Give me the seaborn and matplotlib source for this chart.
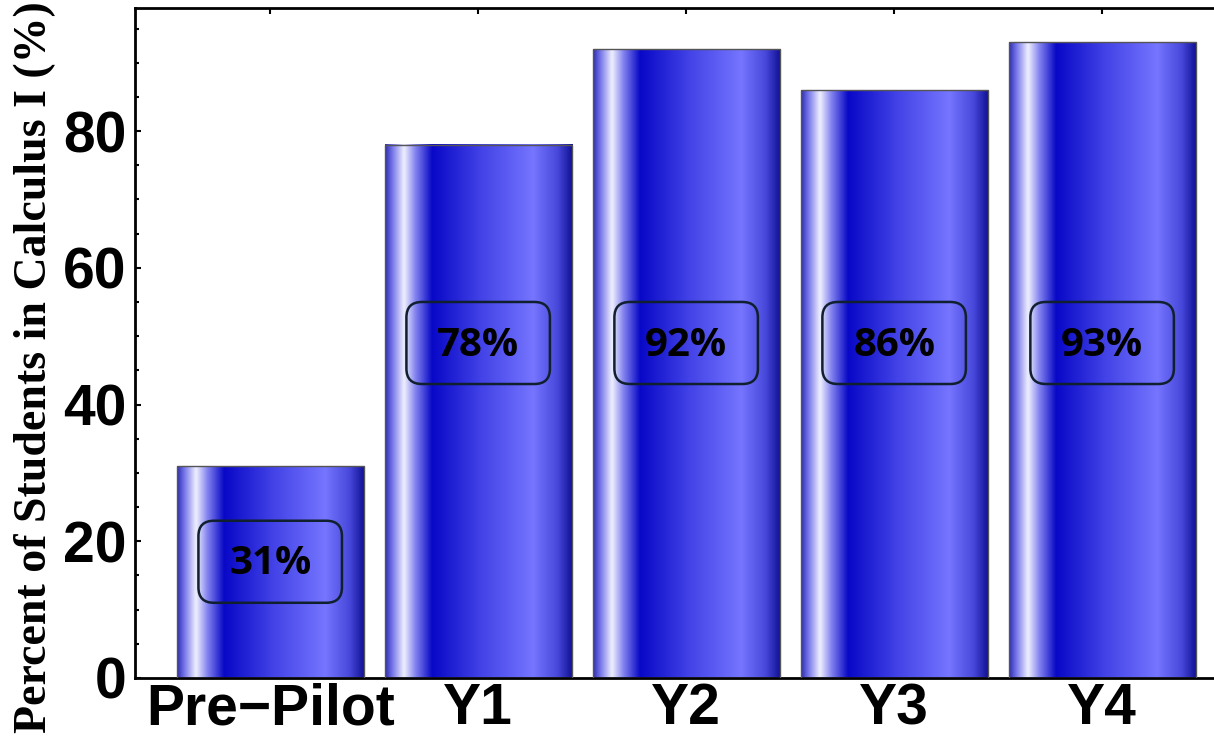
import numpy as np
import matplotlib
matplotlib.use("Agg")
import matplotlib.pyplot as plt
from matplotlib.colors import LinearSegmentedColormap
from matplotlib.patches import FancyBboxPatch
from matplotlib.ticker import MultipleLocator
import seaborn as sns

# data
categories = ["Pre\u2212Pilot", "Y1", "Y2", "Y3", "Y4"]
percent = [31, 78, 92, 86, 93]
labels = ["31%", "78%", "92%", "86%", "93%"]

sns.set_style("ticks")
plt.rcParams["font.family"] = ["Liberation Sans", "DejaVu Sans"]
plt.rcParams["text.color"] = "black"
plt.rcParams["xtick.color"] = "black"
plt.rcParams["ytick.color"] = "black"
plt.rcParams["xtick.labelcolor"] = "black"
plt.rcParams["ytick.labelcolor"] = "black"

fig = plt.figure(figsize=(12.14, 7.40), dpi=100)
ax = fig.add_axes([0.1112, 0.0838, 0.908, 0.9054])

sns.barplot(x=categories, y=percent, width=0.9, color="#3030d8",
            edgecolor="#555555", linewidth=1.0, ax=ax, zorder=2)

# cylinder-like shading across each bar
shade = LinearSegmentedColormap.from_list("cyl", [
    (0.00, (0.18, 0.18, 0.72)),
    (0.04, (0.48, 0.48, 0.92)),
    (0.10, (0.94, 0.94, 1.00)),
    (0.16, (0.52, 0.52, 0.94)),
    (0.25, (0.03, 0.03, 0.78)),
    (0.50, (0.25, 0.25, 0.90)),
    (0.79, (0.46, 0.46, 1.00)),
    (0.92, (0.28, 0.28, 0.86)),
    (1.00, (0.06, 0.06, 0.58)),
])
grad = np.linspace(0, 1, 256).reshape(1, -1)
for p in list(ax.patches):
    x0, w, h = p.get_x(), p.get_width(), p.get_height()
    ax.imshow(grad, cmap=shade, extent=[x0, x0 + w, 0, h], aspect="auto",
              interpolation="bicubic", zorder=2.5)
    p.set_facecolor("none")
    p.set_zorder(3)

# value labels in rounded boxes
for i, (v, lab) in enumerate(zip(percent, labels)):
    ly = min(49, v - 14)
    bw, bh = 0.69, 12.0
    box = FancyBboxPatch((i - bw / 2, ly - bh / 2), bw, bh,
                         boxstyle="round,pad=0,rounding_size=0.075",
                         mutation_aspect=30, facecolor="none",
                         edgecolor="#10202e", linewidth=1.8, zorder=4)
    ax.add_patch(box)
    ax.text(i, ly - 0.3, lab, ha="center", va="center", fontsize=29,
            fontweight="bold", family=["Open Sans", "DejaVu Sans"],
            color="black", zorder=5)

ax.set_xlim(-0.65, 4.65)
ax.set_ylim(0, 98)
ax.set_yticks([0, 20, 40, 60, 80])
ax.yaxis.set_minor_locator(MultipleLocator(5))
ax.set_xlabel("")
ax.set_ylabel("")

for s in ax.spines.values():
    s.set_linewidth(2)
    s.set_color("black")
    s.set_visible(True)

ax.tick_params(which="both", direction="in", top=True, right=True,
               width=1.5, color="black", labelcolor="black")
ax.tick_params(which="major", length=4)
ax.tick_params(which="minor", length=3)
ax.tick_params(axis="y", pad=6)
ax.tick_params(axis="x", pad=3)
for t in ax.get_xticklabels() + ax.get_yticklabels():
    t.set_fontsize(41)
    t.set_fontweight("bold")
    t.set_color("black")

fig.text(35 / 1214, 1 - 367 / 740, "Percent of Students in Calculus I (%)",
         rotation=90, ha="center", va="center", fontsize=33,
         fontweight="bold", color="black",
         family=["Liberation Serif", "DejaVu Serif"])

fig.savefig("out.png", dpi=100)
